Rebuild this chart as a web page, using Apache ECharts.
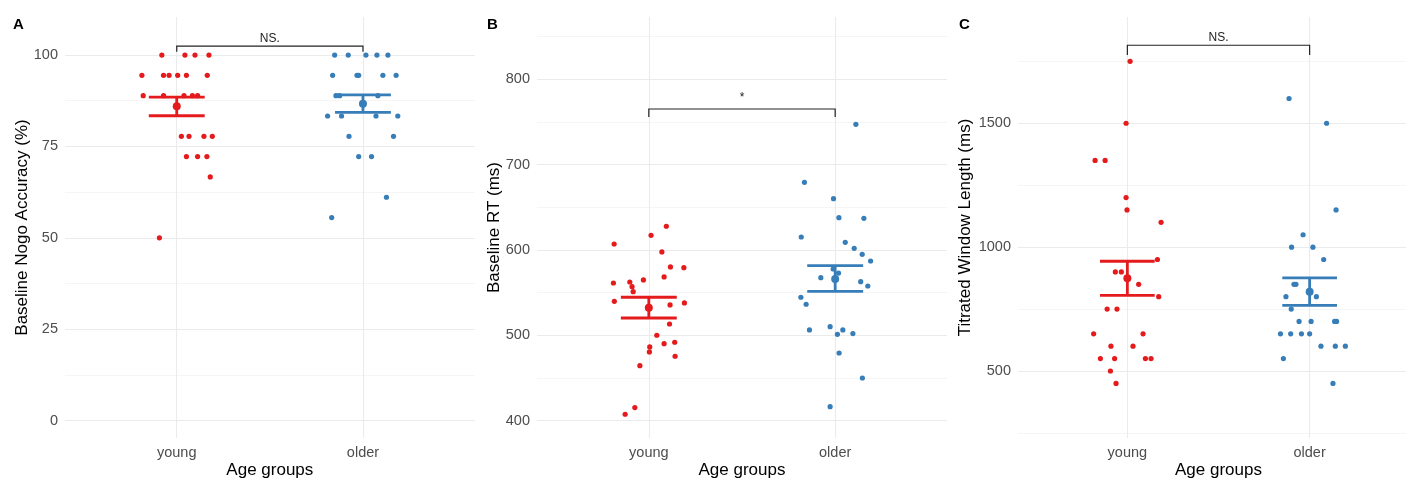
<!DOCTYPE html>
<html>
<head>
<meta charset="utf-8">
<script src="https://cdn.jsdelivr.net/npm/echarts@6/dist/echarts.min.js"></script>
<style>html,body{margin:0;padding:0;background:#fff}#c{width:1406px;height:478px}</style>
</head>
<body>
<div id="c"></div>
<script>
// ---------- data (x offsets are the horizontal jitter, in category units) ----------
const groups = ['young', 'older'];
const groupColors = ['#E41A1C', '#377EB8'];
const panelLetters = ['A', 'B', 'C'];
const yTitles = ['Baseline Nogo Accuracy (%)', 'Baseline RT (ms)', 'Titrated Window Length (ms)'];
const xTitle = 'Age groups';

// Panel A: Baseline Nogo accuracy
const accYoung = [[-0.08,100],[0.044,100],[0.098,100],[0.173,100],
  [-0.187,94.44],[-0.071,94.44],[-0.041,94.44],[0.005,94.44],[0.052,94.44],[0.164,94.44],
  [-0.18,88.89],[-0.071,88.89],[0.039,88.89],[0.084,88.89],[0.112,88.89],
  [0.025,77.78],[0.066,77.78],[0.146,77.78],[0.191,77.78],
  [0.052,72.22],[0.112,72.22],[0.162,72.22],[0.18,66.67],[-0.093,50]];
const accOlder = [[-0.152,100],[-0.079,100],[0.016,100],[0.075,100],[0.134,100],
  [-0.163,94.44],[-0.032,94.44],[-0.023,94.44],[0.107,94.44],[0.178,94.44],
  [-0.145,88.89],[-0.125,88.89],[0.08,88.89],
  [-0.19,83.33],[-0.115,83.33],[0.07,83.33],[0.187,83.33],
  [-0.075,77.78],[0.164,77.78],[-0.023,72.22],[0.046,72.22],[0.126,61.11],[-0.168,55.56]];
const accSummary = [[86.0,83.4,88.5],[86.7,84.3,89.1]]; // mean, low, high
const accTicks = [0,25,50,75,100];
const accMinor = [12.5,37.5,62.5,87.5];
const accBracket = [102.45, 100.9, 104.6, 'NS.']; // bar y, tick end y, label y, label

// Panel B: Baseline RT
const rtYoung = [[0.094,627.8],[0.012,617.2],[-0.186,607.0],[0.07,597.7],[0.116,580.1],[0.188,579.3],
  [-0.19,561.3],[-0.102,562.5],[-0.09,557.0],[-0.084,551.2],[-0.029,564.9],[0.082,568.4],
  [-0.185,539.9],[0.114,535.6],[0.191,538.0],[0.111,513.3],[0.043,500.1],[0.082,490.2],
  [0.139,491.9],[0.005,486.4],[0.003,480.5],[0.141,475.5],[-0.048,464.5],[-0.075,415.3],[-0.127,407.5]];
const rtOlder = [[0.111,747.3],[-0.165,679.3],[-0.009,660.1],[0.02,637.9],[0.154,637.1],[-0.182,615.2],
  [0.054,609.0],[0.102,602.0],[0.145,594.9],[0.19,587.1],[-0.011,577.7],[0.018,573.0],[-0.077,567.6],
  [0.137,562.9],[0.175,557.8],[-0.184,544.6],[-0.156,536.4],[-0.138,506.3],[-0.027,510.2],
  [0.012,501.2],[0.041,506.3],[0.095,502.0],[0.021,479.3],[0.146,450.0],[-0.027,416.4]];
const rtSummary = [[532.4,520.3,544.6],[566.0,551.6,581.6]];
const rtTicks = [400,500,600,700,800];
const rtMinor = [450,550,650,750,850];
const rtBracket = [765.2, 755.8, 778, '*'];

// Panel C: Titrated window length
const winYoung = [[0.015,1750],[-0.007,1500],[-0.177,1350],[-0.122,1350],[-0.007,1200],[-0.002,1150],
  [0.185,1100],[0.165,950],[-0.066,900],[-0.033,900],[0.062,850],[0.172,800],[-0.111,750],[-0.057,750],
  [-0.185,650],[0.086,650],[-0.09,600],[0.031,600],[-0.148,550],[-0.07,550],[0.099,550],[0.13,550],
  [-0.093,500],[-0.062,450]];
const winOlder = [[-0.113,1600],[0.093,1500],[0.145,1150],[-0.036,1050],[-0.099,1000],[0.018,1000],
  [0.077,950],[-0.086,850],[-0.075,850],[-0.13,800],[0.037,800],[-0.101,750],[-0.058,700],[0.008,700],
  [0.137,700],[0.148,700],[-0.16,650],[-0.104,650],[-0.045,650],[0,650],[0.062,600],[0.141,600],
  [0.196,600],[-0.144,550],[0.128,450]];
const winSummary = [[874.4,805.6,943.0],[820.0,765.0,875.5]];
const winTicks = [500,1000,1500];
const winMinor = [250,750,1250,1750];
const winBracket = [1815, 1776, 1844, 'NS.'];

// ---------- layout ----------
const FONT = '"Liberation Sans", Arial, sans-serif';
const panels = [
  {young: accYoung, older: accOlder, summary: accSummary, ticks: accTicks, minor: accMinor, bracket: accBracket,
   left: 65, width: 409.7, ymin: -4.73, ymax: 110.4, nameGap: 34, letterX: 13},
  {young: rtYoung, older: rtOlder, summary: rtSummary, ticks: rtTicks, minor: rtMinor, bracket: rtBracket,
   left: 537, width: 410, ymin: 379.7, ymax: 873, nameGap: 34, letterX: 487},
  {young: winYoung, older: winOlder, summary: winSummary, ticks: winTicks, minor: winMinor, bracket: winBracket,
   left: 1018, width: 401, ymin: 229.5, ymax: 1929, nameGap: 44, letterX: 959}
];

const grid = [], xAxis = [], yAxis = [], series = [], graphic = [];
panels.forEach((p, i) => {
  grid.push({left: p.left, top: 17, width: p.width, height: 421, containLabel: false, outerBoundsMode: 'none'});
  xAxis.push({
    type: 'value', gridIndex: i, min: 0.4, max: 2.6,
    name: xTitle, nameLocation: 'middle', nameGap: 24, nameMoveOverlap: false,
    nameTextStyle: {color: '#000', fontSize: 17, fontFamily: FONT},
    axisLine: {show: false}, axisTick: {show: false, customValues: [1, 2]},
    axisLabel: {customValues: [1, 2], formatter: v => groups[Math.round(v) - 1] || '',
      color: '#4d4d4d', fontSize: 14.5, fontFamily: FONT, margin: 7},
    splitLine: {show: true, lineStyle: {color: '#ebebeb', width: 1.1}}
  });
  yAxis.push({
    type: 'value', gridIndex: i, min: p.ymin, max: p.ymax,
    name: yTitles[i], nameLocation: 'middle', nameGap: p.nameGap, nameRotate: 90, nameMoveOverlap: false,
    nameTextStyle: {color: '#000', fontSize: 17, fontFamily: FONT},
    axisLine: {show: false}, axisTick: {show: false, customValues: p.ticks},
    axisLabel: {customValues: p.ticks, formatter: v => String(v), color: '#4d4d4d', fontSize: 14.5,
      fontFamily: FONT, margin: 7, showMinLabel: true, showMaxLabel: true},
    splitLine: {show: true, lineStyle: {color: '#ebebeb', width: 1.1}}
  });
  yAxis.push({
    type: 'value', gridIndex: i, min: p.ymin, max: p.ymax, position: 'left',
    axisLine: {show: false}, axisTick: {show: false, customValues: p.minor},
    axisLabel: {show: false, customValues: p.minor},
    splitLine: {show: true, lineStyle: {color: '#f2f2f2', width: 0.8}}
  });
  const yIdx = i * 2;
  [p.young, p.older].forEach((pts, g) => {
    series.push({
      type: 'scatter', xAxisIndex: i, yAxisIndex: yIdx, symbolSize: 5.2,
      itemStyle: {color: groupColors[g], opacity: 1},
      data: pts.map(d => [g + 1 + d[0], d[1]]), z: 2, silent: true
    });
  });
  series.push({
    type: 'custom', xAxisIndex: i, yAxisIndex: yIdx, z: 3, silent: true,
    data: p.summary.map((s, g) => [g + 1, s[0], s[1], s[2], g]),
    renderItem: (params, api) => {
      const x = api.value(0), m = api.value(1), lo = api.value(2), hi = api.value(3);
      const col = groupColors[api.value(4)];
      const pLo = api.coord([x, lo]), pHi = api.coord([x, hi]), pM = api.coord([x, m]);
      const l = api.coord([x - 0.15, lo])[0], r = api.coord([x + 0.15, lo])[0];
      const st = {stroke: col, lineWidth: 2.8, fill: null};
      return {type: 'group', children: [
        {type: 'line', shape: {x1: pLo[0], y1: pLo[1], x2: pHi[0], y2: pHi[1]}, style: st},
        {type: 'line', shape: {x1: l, y1: pLo[1], x2: r, y2: pLo[1]}, style: st},
        {type: 'line', shape: {x1: l, y1: pHi[1], x2: r, y2: pHi[1]}, style: st},
        {type: 'circle', shape: {cx: pM[0], cy: pM[1], r: 4}, style: {fill: col}}
      ]};
    }
  });
  series.push({
    type: 'custom', xAxisIndex: i, yAxisIndex: yIdx, z: 4, silent: true,
    data: [[1, 2, p.bracket[0], p.bracket[1], p.bracket[2]]],
    renderItem: (params, api) => {
      const a = api.coord([api.value(0), api.value(2)]);
      const b = api.coord([api.value(1), api.value(2)]);
      const e = api.coord([api.value(0), api.value(3)]);
      const t = api.coord([(api.value(0) + api.value(1)) / 2, api.value(4)]);
      const st = {stroke: '#222', lineWidth: 1.2, fill: null};
      return {type: 'group', children: [
        {type: 'polyline', shape: {points: [[a[0], e[1]], a, b, [b[0], e[1]]]}, style: st},
        {type: 'text', x: t[0], y: t[1], style: {text: p.bracket[3], fill: '#222', fontSize: 12,
          fontFamily: FONT, align: 'center', verticalAlign: 'middle'}}
      ]};
    }
  });
  graphic.push({type: 'text', left: p.letterX, top: 17, style: {text: panelLetters[i], fill: '#000',
    fontSize: 15, fontWeight: 'bold', fontFamily: FONT}});
});

const chart = echarts.init(document.getElementById('c'), null, {renderer: 'canvas'});
chart.setOption({animation: false, backgroundColor: '#fff', grid, xAxis, yAxis, series, graphic});
</script>
</body>
</html>
